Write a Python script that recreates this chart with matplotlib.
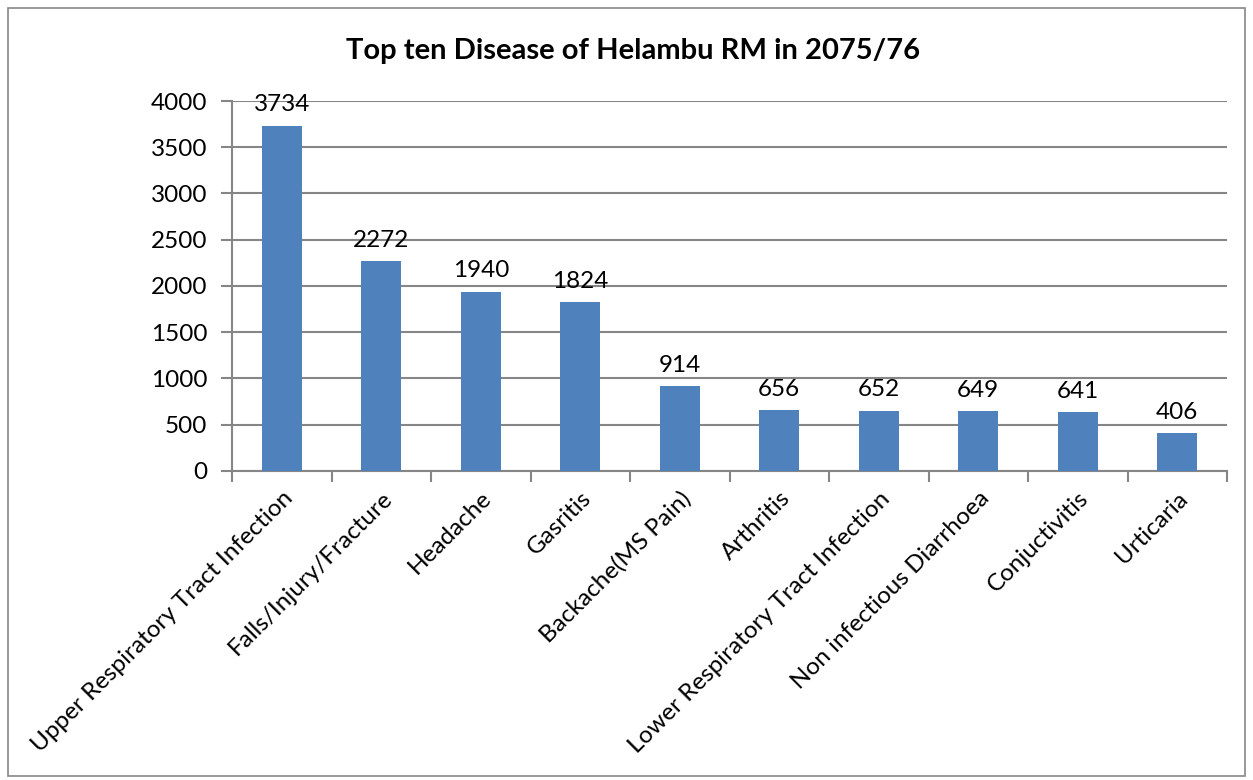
import matplotlib.pyplot as plt
from matplotlib.patches import Rectangle

diseases = [
    "Upper Respiratory Tract Infection",
    "Falls/Injury/Fracture",
    "Headache",
    "Gasritis",
    "Backache(MS Pain)",
    "Arthritis",
    "Lower Respiratory Tract Infection",
    "Non infectious Diarrhoea",
    "Conjuctivitis",
    "Urticaria",
]
cases = [3734, 2272, 1940, 1824, 914, 656, 652, 649, 641, 406]
yticks = [0, 500, 1000, 1500, 2000, 2500, 3000, 3500, 4000]

plt.rcParams['font.family'] = ['Lato', 'DejaVu Sans']
grey = '#868686'

fig = plt.figure(figsize=(12.53, 7.8), dpi=100)
# outer chart frame
fig.patches.append(Rectangle((0.006, 0.005), 0.988, 0.985, transform=fig.transFigure,
                             fill=False, edgecolor=grey, lw=1.2))

ax = fig.add_axes([0.1852, 0.3962, 0.7941, 0.4743])
x = range(len(diseases))
bars = ax.bar(x, cases, width=0.4, color='#4f81bd', zorder=3)
for b, v in zip(bars, cases):
    ax.text(b.get_x() + b.get_width() / 2, v + 110, str(v), ha='center', va='bottom',
            fontsize=17.5, zorder=4)

ax.set_xlim(-0.5, len(diseases) - 0.5)
ax.set_ylim(0, 4000)
ax.set_yticks(yticks)
ax.tick_params(axis='y', labelsize=17.5, length=8, width=1.5, color=grey, pad=10)
ax.yaxis.grid(True, color=grey, lw=1.5, zorder=0)

ax.set_xticks([i - 0.5 for i in range(len(diseases) + 1)], minor=False)
ax.set_xticklabels([])
ax.tick_params(axis='x', which='major', length=8, width=1.5, color=grey)
ax.set_xticks(list(x), minor=True)
ax.set_xticklabels(diseases, minor=True, rotation=45, ha='right', rotation_mode='anchor',
                   fontsize=17.5)
ax.tick_params(axis='x', which='minor', length=0, pad=12)

for s in ['top', 'right']:
    ax.spines[s].set_visible(False)
for s in ['left', 'bottom']:
    ax.spines[s].set_color(grey)
    ax.spines[s].set_linewidth(1.5)

fig.text(0.505, 0.935, "Top ten Disease of Helambu RM in 2075/76", ha='center', va='center',
         fontsize=21, fontweight='bold')

fig.savefig('out.png', dpi=100)
